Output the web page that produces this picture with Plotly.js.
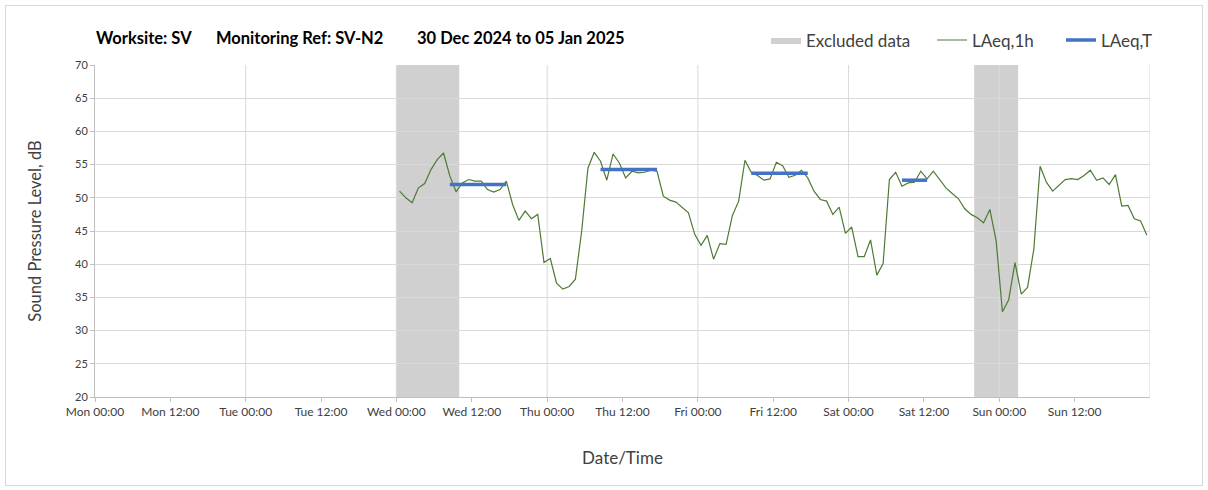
<!DOCTYPE html>
<html><head><meta charset="utf-8">
<script src="https://cdn.plot.ly/plotly-3.0.1.min.js"></script>
<style>
html,body{margin:0;padding:0;background:#fff;}
#chart{position:absolute;left:0;top:0;width:1208px;height:490px;}
#frame{position:absolute;left:5px;top:5px;width:1196px;height:479px;border:1px solid #d9d9d9;pointer-events:none;}
</style>
</head><body>
<div id="chart"></div><div id="frame"></div>
<script>
// ---- data ----
const dayDates = ['2024-12-30','2024-12-31','2025-01-01','2025-01-02','2025-01-03','2025-01-04','2025-01-05'];
const dayNames = ['Mon','Tue','Wed','Thu','Fri','Sat','Sun'];
const tickHours = ['00:00','12:00'];
const weekEnd = '2025-01-06 00:00';
const firstReading = [2025, 0, 1, 0, 30]; // Wed 01 Jan 2025 00:30, hourly after

const laeq1h = [
  51.0, 50.0, 49.25, 51.5, 52.15, 54.25, 55.75, 56.75, 53.3, 50.9, 52.25, 52.75,
  52.5, 52.5, 51.25, 50.85, 51.25, 52.5, 49.0, 46.6, 48.0, 46.85, 47.5, 40.25,
  40.85, 37.15, 36.25, 36.65, 37.75, 45.0, 54.5, 56.85, 55.5, 52.65, 56.6, 55.25,
  53.0, 54.0, 53.75, 53.85, 54.15, 54.0, 50.25, 49.65, 49.35, 48.6, 47.75, 44.5,
  42.85, 44.35, 40.75, 43.1, 43.0, 47.35, 49.5, 55.65, 53.85, 53.35, 52.65, 52.85,
  55.35, 54.85, 53.1, 53.4, 54.15, 53.0, 51.0, 49.75, 49.5, 47.5, 48.6, 44.65,
  45.6, 41.15, 41.15, 43.65, 38.35, 40.1, 52.75, 53.85, 51.75, 52.25, 52.35, 54.0,
  52.85, 54.0, 52.75, 51.5, 50.65, 49.85, 48.35, 47.5, 47.0, 46.25, 48.25, 43.5,
  32.85, 34.65, 40.25, 35.5, 36.5, 42.25, 54.75, 52.35, 51.0, 51.85, 52.75, 52.9,
  52.75, 53.35, 54.15, 52.65, 53.0, 52.0, 53.5, 48.75, 48.85, 46.85, 46.5, 44.35
];

const periodStart = ['2025-01-01 08:30','2025-01-02 08:30','2025-01-03 08:30','2025-01-04 08:30'];
const periodEnd   = ['2025-01-01 17:30','2025-01-02 17:30','2025-01-03 17:30','2025-01-04 12:30'];
const laeqT = [52.0, 54.25, 53.7, 52.65];

const excludedStart = ['2025-01-01 00:00','2025-01-04 20:00'];
const excludedEnd   = ['2025-01-01 10:00','2025-01-05 03:00'];

const titleParts = ['Worksite: SV', 'Monitoring Ref: SV-N2', '30 Dec 2024 to 05 Jan 2025'];
const seriesNames = ['Excluded data', 'LAeq,1h', 'LAeq,T'];

// ---- build ----
const t0 = Date.UTC(...firstReading);
const times = laeq1h.map((_, i) => new Date(t0 + i * 3600000).toISOString().slice(0, 16).replace('T', ' '));

const tickvals = [], ticktext = [];
dayDates.forEach((d, i) => {
  tickHours.forEach(h => { tickvals.push(d + ' ' + h); ticktext.push(dayNames[i] + ' ' + h); });
});

const tx = [], ty = [];
laeqT.forEach((v, i) => { tx.push(periodStart[i], periodEnd[i], null); ty.push(v, v, null); });

const FONT = 'Lato, "Open Sans", sans-serif';
const shapes = [];
excludedStart.forEach((s, i) => shapes.push({
  type: 'rect', xref: 'x', yref: 'paper', x0: s, x1: excludedEnd[i], y0: 0, y1: 1,
  fillcolor: '#d0d0d0', line: {width: 0}, layer: 'below'
}));
dayDates.slice(1).concat([weekEnd]).forEach(d => shapes.push({
  type: 'line', xref: 'x', yref: 'paper', x0: d, x1: d, y0: 0, y1: 1,
  line: {color: '#d9d9d9', width: 1}, layer: 'below'
}));

const traces = [
  {type: 'scatter', mode: 'lines', name: seriesNames[0], x: [null], y: [null], legend: 'legend',
   fill: 'toself', fillcolor: '#d0d0d0', line: {width: 0, color: '#d0d0d0'}, hoverinfo: 'skip'},
  {type: 'scatter', mode: 'lines', name: seriesNames[1], x: times, y: laeq1h, legend: 'legend2',
   line: {color: '#4f7a35', width: 1.2}},
  {type: 'scatter', mode: 'lines', name: seriesNames[2], x: tx, y: ty, legend: 'legend3',
   line: {color: '#4472c4', width: 3.5}, connectgaps: false}
];

const legendBase = {orientation: 'h', xanchor: 'left', y: 1.074, yanchor: 'middle',
  font: {family: FONT, size: 17, color: '#404040'}, bgcolor: 'rgba(0,0,0,0)'};

const titleX = [95, 215, 416];
const annotations = titleParts.map((t, i) => ({
  text: '<b>' + t + '</b>', xref: 'paper', yref: 'paper',
  x: (titleX[i] - 95) / 1055, y: 1 + (65 - 37.5) / 332, xanchor: 'left', yanchor: 'middle',
  showarrow: false, borderpad: 0, font: {family: FONT, size: 16.5, color: '#000'}
}));

const layout = {
  width: 1208, height: 490,
  margin: {l: 95, r: 58, t: 65, b: 93, pad: 0},
  paper_bgcolor: 'rgba(0,0,0,0)', plot_bgcolor: '#fff',
  font: {family: FONT, color: '#404040'},
  showlegend: true,
  legend: Object.assign({}, legendBase, {x: 0.636}),
  legend2: Object.assign({}, legendBase, {x: 0.7934}),
  legend3: Object.assign({}, legendBase, {x: 0.9156}),
  annotations: annotations,
  xaxis: {type: 'date', range: [dayDates[0] + ' 00:00', weekEnd], tickmode: 'array',
          tickvals: tickvals, ticktext: ticktext, showgrid: false, zeroline: false,
          showline: true, linecolor: '#bfbfbf', linewidth: 1,
          ticks: 'outside', ticklen: 4, tickcolor: '#bfbfbf',
          tickfont: {family: FONT, size: 12, color: '#404040'},
          title: {text: 'Date/Time', font: {family: FONT, size: 17, color: '#404040'}, standoff: 33}},
  yaxis: {range: [20, 70], dtick: 5, tick0: 20, showgrid: true, gridcolor: '#d9d9d9', zeroline: false,
          showline: true, linecolor: '#bfbfbf', linewidth: 1,
          ticks: 'outside', ticklen: 4, tickcolor: '#bfbfbf',
          tickfont: {family: FONT, size: 11, color: '#404040'},
          title: {text: 'Sound Pressure Level, dB', font: {family: FONT, size: 16.5, color: '#404040'}, standoff: 29}},
  shapes: shapes
};

Plotly.newPlot('chart', traces, layout, {staticPlot: true, displayModeBar: false});
</script>
</body></html>
